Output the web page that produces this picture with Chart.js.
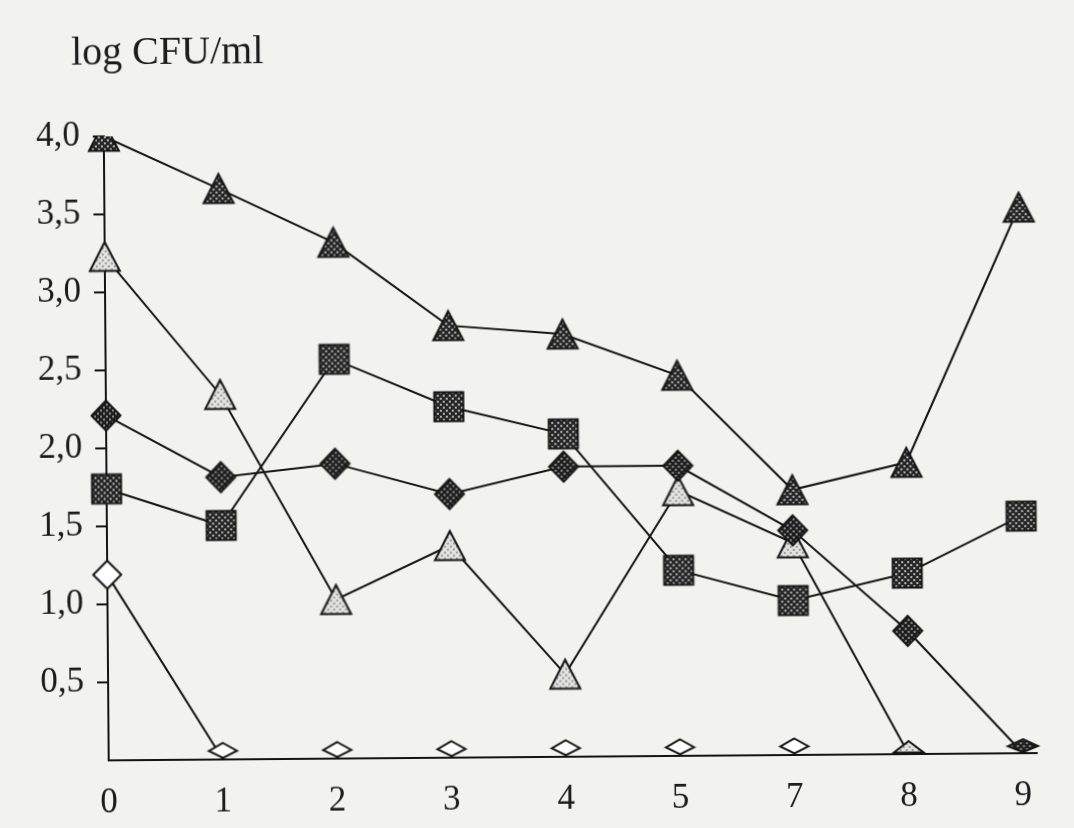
<!DOCTYPE html>
<html>
<head>
<meta charset="utf-8">
<script src="https://cdn.jsdelivr.net/npm/chart.js@4.4.1/dist/chart.umd.min.js"></script>
<style>
  html, body { margin: 0; padding: 0; width: 1074px; height: 828px; overflow: hidden; background: #f2f2ef; }
  #wrap { position: absolute; left: 0; top: 0; width: 1074px; height: 828px;
          transform: rotate(-0.45deg); transform-origin: 537px 414px; }
  #wrap canvas { position: absolute; left: 0; top: 0; }
  #title { position: absolute; left: 74px; top: 28px; font: 40px "Liberation Serif", "Times New Roman", serif;
           line-height: 1; color: #1c1c1c; white-space: nowrap; }
</style>
</head>
<body>
<div id="wrap">
  <canvas id="chart" width="1074" height="828"></canvas>
  <div id="title">log CFU/ml</div>
</div>
<script>
// Sampling days (day 6 was not sampled)
const days = ['0', '1', '2', '3', '4', '5', '7', '8', '9'];
const yTickLabels = ['', '0,5', '1,0', '1,5', '2,0', '2,5', '3,0', '3,5', '4,0'];

// log CFU/ml per series
const darkTriangles  = [4.00, 3.66, 3.31, 2.77, 2.71, 2.44, 1.70, 1.87, 3.50];
const lightTriangles = [3.23, 2.34, 1.02, 1.36, 0.53, 1.70, 1.36, 0, null];
const squares        = [1.74, 1.50, 2.56, 2.25, 2.07, 1.19, 0.99, 1.16, 1.52];
const darkDiamonds   = [2.21, 1.81, 1.89, 1.69, 1.86, 1.86, 1.44, 0.79, 0];
const openDiamonds   = [1.19, 0, 0, 0, 0, 0, 0, null, null];

const INK = '#141414';

// stippled fill tile for the markers
function tile(bg, dot) {
  const t = document.createElement('canvas');
  t.width = 6; t.height = 6;
  const g = t.getContext('2d');
  g.fillStyle = bg; g.fillRect(0, 0, 6, 6);
  g.fillStyle = dot; g.fillRect(0, 0, 2, 2); g.fillRect(3, 3, 2, 2);
  return t;
}

// marker glyph drawn into its own small canvas, centred on the data point
function glyph(shape, fill, w, h) {
  const c = document.createElement('canvas');
  c.width = w; c.height = h;
  const g = c.getContext('2d');
  g.beginPath();
  shape.forEach(([px, py], i) => (i ? g.lineTo(px, py) : g.moveTo(px, py)));
  g.closePath();
  g.fillStyle = typeof fill === 'string' ? fill : g.createPattern(fill, 'repeat');
  g.fill();
  g.lineWidth = 2;
  g.lineJoin = 'miter';
  g.strokeStyle = INK;
  g.stroke();
  return c;
}

const darkDots  = tile('#262626', '#b4b4b4');
const diaDots   = tile('#1e1e1e', '#8e8e8e');
const lightDots = tile('#e2e2e0', '#9c9c9c');

const triShape   = [[18, 3.5], [33, 32.5], [3, 32.5]];
const sqShape    = [[3.5, 3.5], [32.5, 3.5], [32.5, 32.5], [3.5, 32.5]];
const diaShape   = [[18, 3], [32.5, 18], [18, 33], [3.5, 18]];
const openShape  = [[18, 4], [32, 18], [18, 32], [4, 18]];
// flattened markers sitting on the baseline for zero counts
const flatDia    = [[18, 3.5], [32, 11.5], [18, 18.5], [4, 11.5]];
const flatTri    = [[18, 7], [33, 18.5], [3, 18.5]];
const flatDarkD  = [[18, 6], [33, 13], [18, 19], [3, 13]];

const marks = {
  darkTri:   glyph(triShape, darkDots, 36, 36),
  lightTri:  glyph(triShape, lightDots, 36, 36),
  lightTri0: glyph(flatTri, lightDots, 36, 40),
  square:    glyph(sqShape, darkDots, 36, 36),
  darkDia:   glyph(diaShape, diaDots, 36, 36),
  darkDia0:  glyph(flatDarkD, diaDots, 36, 40),
  openDia:   glyph(openShape, '#ffffff', 36, 36),
  openDia0:  glyph(flatDia, '#ffffff', 36, 40)
};

const toPoints = vals => vals.map((v, i) => ({ x: i, y: v }));
const styleFor = (normal, zero) => ctx => (ctx.raw && ctx.raw.y === 0 && zero ? zero : normal);

function series(label, vals, normal, zero) {
  return {
    label,
    data: toPoints(vals),
    borderColor: INK,
    borderWidth: 2,
    tension: 0,
    spanGaps: false,
    pointRadius: 15,
    pointHoverRadius: 15,
    pointStyle: styleFor(normal, zero),
    clip: { left: false, top: 0, right: false, bottom: false }
  };
}

const serif = { family: '"Liberation Serif", "Times New Roman", serif', size: 35 };

new Chart(document.getElementById('chart'), {
  type: 'line',
  data: {
    datasets: [
      series('dark diamonds', darkDiamonds, marks.darkDia, marks.darkDia0),
      series('dark triangles', darkTriangles, marks.darkTri, null),
      series('squares', squares, marks.square, null),
      series('light triangles', lightTriangles, marks.lightTri, marks.lightTri0),
      series('open diamonds', openDiamonds, marks.openDia, marks.openDia0)
    ]
  },
  options: {
    responsive: false,
    animation: false,
    events: [],
    devicePixelRatio: 1,
    layout: { padding: { top: 133, right: 40, bottom: 0, left: 0 } },
    plugins: { legend: { display: false }, tooltip: { enabled: false }, title: { display: false } },
    scales: {
      x: {
        type: 'linear',
        min: 0,
        max: 8.12,
        afterFit: s => { s.height = 71; },
        grid: { display: false, drawTicks: false },
        border: { display: true, color: INK, width: 2 },
        ticks: {
          stepSize: 1,
          includeBounds: false,
          autoSkip: false,
          maxRotation: 0,
          padding: 22,
          color: '#1c1c1c',
          font: serif,
          callback: v => days[Math.round(v)] ?? ''
        }
      },
      y: {
        min: 0,
        max: 4,
        afterFit: s => { s.width = 106; },
        grid: {
          drawOnChartArea: false,
          drawTicks: true,
          tickLength: 11,
          lineWidth: 2,
          color: c => (c.tick && c.tick.value === 0 ? 'rgba(0,0,0,0)' : INK)
        },
        border: { display: true, color: INK, width: 2 },
        ticks: {
          stepSize: 0.5,
          padding: 13,
          color: '#1c1c1c',
          font: serif,
          callback: (v, i) => yTickLabels[i]
        }
      }
    }
  }
});
</script>
</body>
</html>
